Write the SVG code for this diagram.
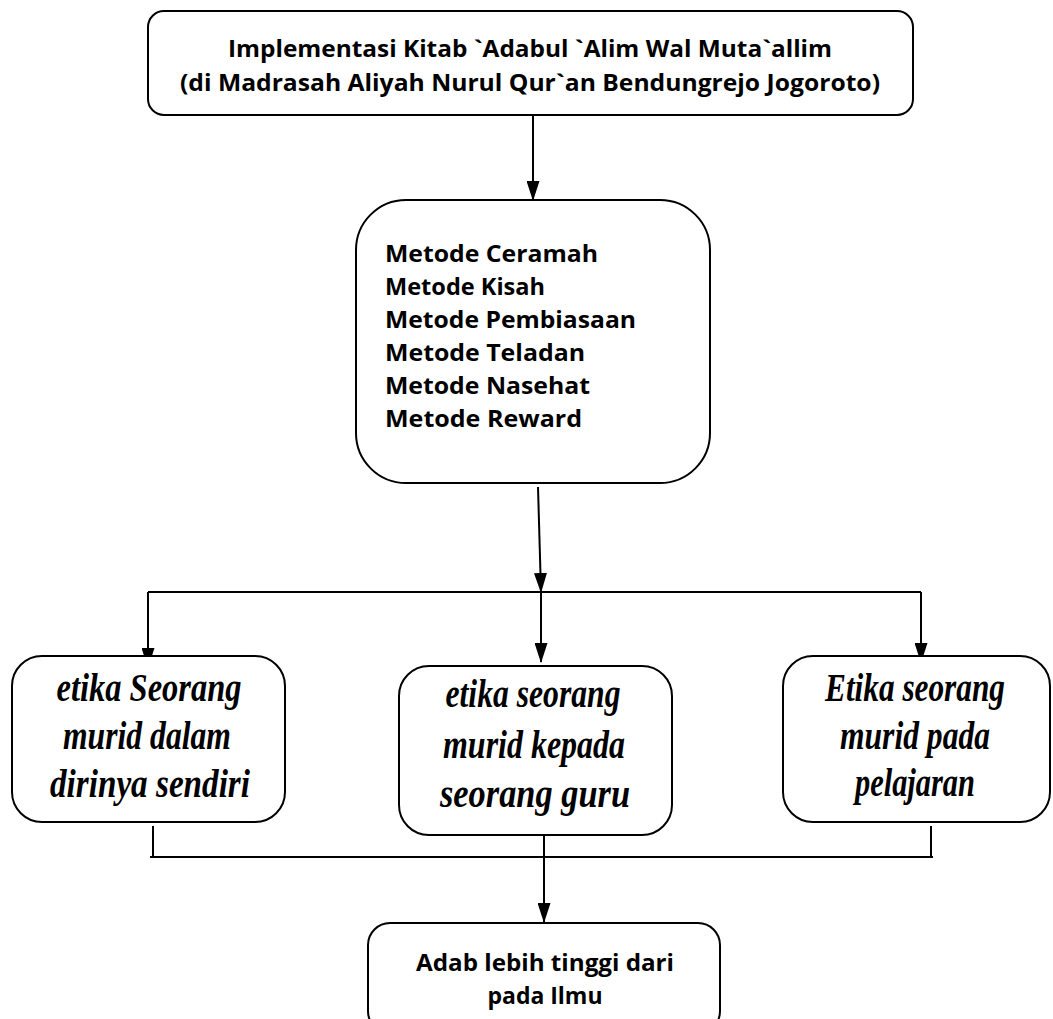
<svg xmlns="http://www.w3.org/2000/svg" width="1053" height="1019" viewBox="0 0 1053 1019">
<style>
.box{fill:#fff;stroke:#000;stroke-width:2}
.sans{font-family:"Open Sans","Noto Sans","Liberation Sans",sans-serif;font-weight:bold;font-size:24px;fill:#000}
.ser{font-family:"Liberation Serif","DejaVu Serif",serif;font-weight:bold;font-style:italic;font-size:39px;fill:#000}
.ln{stroke:#000;stroke-width:2;fill:none}
</style>
<defs>
<marker id="ahv" markerWidth="20" markerHeight="13" refX="19" refY="6.5" orient="auto" markerUnits="userSpaceOnUse" viewBox="0 0 20 13">
<path d="M0,0 L20,6.5 L0,13 z" fill="#000"/>
</marker>
</defs>
<rect width="1053" height="1019" fill="#fff"/>
<g id="connectors">
<line class="ln" x1="533" y1="115" x2="533" y2="200" marker-end="url(#ahv)"/>
<line class="ln" x1="538" y1="487" x2="541" y2="592" marker-end="url(#ahv)"/>
<line class="ln" x1="148" y1="592" x2="921" y2="592"/>
<line class="ln" x1="148" y1="592" x2="148" y2="667" marker-end="url(#ahv)"/>
<line class="ln" x1="541" y1="592" x2="541" y2="662" marker-end="url(#ahv)"/>
<line class="ln" x1="921" y1="592" x2="921" y2="662" marker-end="url(#ahv)"/>
<line class="ln" x1="153" y1="826" x2="153" y2="857"/>
<line class="ln" x1="931" y1="826" x2="931" y2="857"/>
<line class="ln" x1="150" y1="857" x2="933" y2="857"/>
<line class="ln" x1="544" y1="830" x2="544" y2="922" marker-end="url(#ahv)"/>
</g>
<g id="node-top">
<rect class="box" x="148" y="11" width="765" height="104" rx="16"/>
<text class="sans" x="530" y="57" text-anchor="middle" textLength="604" lengthAdjust="spacingAndGlyphs">Implementasi Kitab `Adabul `Alim Wal Muta`allim</text>
<text class="sans" x="530" y="91" text-anchor="middle" textLength="700" lengthAdjust="spacingAndGlyphs">(di Madrasah Aliyah Nurul Qur`an Bendungrejo Jogoroto)</text>
</g>
<g id="node-metode">
<rect class="box" x="356" y="200" width="354" height="283" rx="50"/>
<text class="sans" x="385" y="262" textLength="213" lengthAdjust="spacingAndGlyphs">Metode Ceramah</text>
<text class="sans" x="385" y="295" textLength="160" lengthAdjust="spacingAndGlyphs">Metode Kisah</text>
<text class="sans" x="385" y="328" textLength="251" lengthAdjust="spacingAndGlyphs">Metode Pembiasaan</text>
<text class="sans" x="385" y="361" textLength="200" lengthAdjust="spacingAndGlyphs">Metode Teladan</text>
<text class="sans" x="385" y="394" textLength="205" lengthAdjust="spacingAndGlyphs">Metode Nasehat</text>
<text class="sans" x="385" y="427" textLength="197" lengthAdjust="spacingAndGlyphs">Metode Reward</text>
</g>
<g id="node-left">
<rect class="box" x="12" y="656" width="273" height="166" rx="30"/>
<text class="ser" x="149" y="701" text-anchor="middle" textLength="185" lengthAdjust="spacingAndGlyphs">etika Seorang</text>
<text class="ser" x="147" y="749" text-anchor="middle" textLength="168" lengthAdjust="spacingAndGlyphs">murid dalam</text>
<text class="ser" x="150" y="797" text-anchor="middle" textLength="200" lengthAdjust="spacingAndGlyphs">dirinya sendiri</text>
</g>
<g id="node-middle">
<rect class="box" x="399" y="666" width="273" height="169" rx="30"/>
<text class="ser" x="533" y="707" text-anchor="middle" textLength="175" lengthAdjust="spacingAndGlyphs">etika seorang</text>
<text class="ser" x="534" y="758" text-anchor="middle" textLength="182" lengthAdjust="spacingAndGlyphs">murid kepada</text>
<text class="ser" x="535" y="807" text-anchor="middle" textLength="190" lengthAdjust="spacingAndGlyphs">seorang guru</text>
</g>
<g id="node-right">
<rect class="box" x="783" y="656" width="267" height="166" rx="30"/>
<text class="ser" x="915" y="701" text-anchor="middle" textLength="180" lengthAdjust="spacingAndGlyphs">Etika seorang</text>
<text class="ser" x="915" y="749" text-anchor="middle" textLength="150" lengthAdjust="spacingAndGlyphs">murid pada</text>
<text class="ser" x="915" y="796" text-anchor="middle" textLength="120" lengthAdjust="spacingAndGlyphs">pelajaran</text>
</g>
<g id="node-bottom">
<rect class="box" x="368" y="923" width="352" height="110" rx="22"/>
<text class="sans" x="545" y="971" text-anchor="middle" textLength="258" lengthAdjust="spacingAndGlyphs">Adab lebih tinggi dari</text>
<text class="sans" x="545" y="1004" text-anchor="middle" textLength="115" lengthAdjust="spacingAndGlyphs">pada Ilmu</text>
</g>
</svg>
